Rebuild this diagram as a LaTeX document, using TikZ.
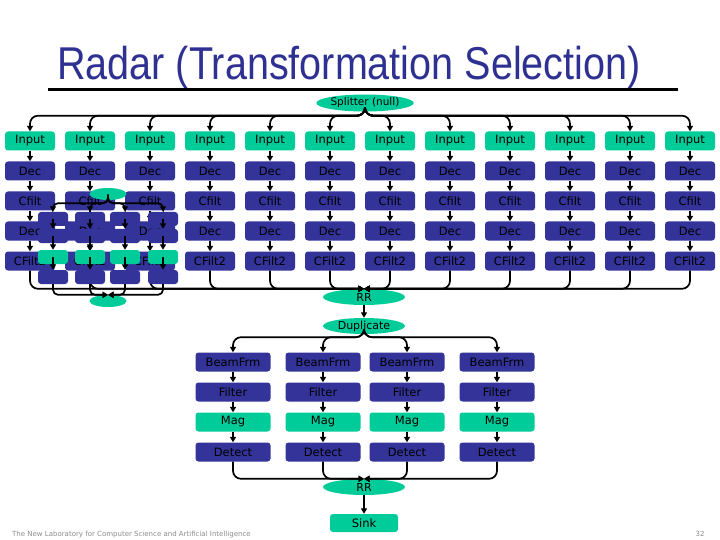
\documentclass[tikz,border=0pt]{standalone}
\usepackage{graphicx}
\usepackage{fontspec}
\setmainfont{DejaVu Sans}
\newfontfamily\titlefont{Liberation Sans}
\usetikzlibrary{arrows.meta,shapes.geometric}
\definecolor{radblue}{RGB}{51,51,153}
\definecolor{radgreen}{RGB}{0,204,153}
\definecolor{titleblue}{RGB}{46,49,146}
\tikzset{
  bluebox/.style={rounded corners=3pt, fill=radblue, text=black, inner sep=0pt,
                  minimum width=50pt, minimum height=19pt, font=\fontsize{11.5}{11.5}\selectfont},
  greenbox/.style={bluebox, fill=radgreen},
  greenoval/.style={ellipse, fill=radgreen, inner sep=0pt, minimum width=82pt,
                    minimum height=16pt, font=\fontsize{11}{11}\selectfont},
  minibox/.style={rounded corners=3pt, fill=radblue, inner sep=0pt,
                  minimum width=30pt, minimum height=14pt},
  flowarr/.style={-{Triangle[length=5.5pt,width=6pt]}, line width=1.7pt},
  fanarr/.style={flowarr, rounded corners=8pt},
  footlab/.style={text=black!45, font=\fontsize{7}{7}\selectfont},
}
\begin{document}
\begin{tikzpicture}[x=1pt,y=-1pt]
\fill[white] (0,0) rectangle (720,540);
\useasboundingbox (0,0) rectangle (720,540);
% title
\node[anchor=base, text=titleblue, inner sep=0pt] (title) at (349,80)
  {\scalebox{0.86}[1]{\titlefont\fontsize{46}{46}\selectfont Radar (Transformation Selection)}};
\draw[line width=3pt] (48,90) -- (678,90);
% splitter and joiner
\node[greenoval, minimum width=86pt, minimum height=17pt, font=\fontsize{10.5}{10.5}\selectfont] (split) at (365,103) {Splitter (null)};
\node[greenoval] (rr) at (364,297) {RR};
% twelve pipelines
\foreach \i in {1,...,12}{
  \pgfmathsetmacro\cx{-30+60*\i}
  \node[greenbox] (in\i) at (\cx,141) {Input};
  \node[bluebox] (da\i) at (\cx,171) {Dec};
  \node[bluebox] (cf\i) at (\cx,201) {Cfilt};
  \node[bluebox] (db\i) at (\cx,231) {Dec};
  \node[bluebox] (cg\i) at (\cx,261) {CFilt2};
  \draw[fanarr] (split.south) -- ++(0,4) -| (in\i.north);
  \draw[flowarr] (in\i) -- (da\i);
  \draw[flowarr] (da\i) -- (cf\i);
  \draw[flowarr] (cf\i) -- (db\i);
  \draw[flowarr] (db\i) -- (cg\i);
  \draw[fanarr] (cg\i.south) |- (rr.north);
}
% small copy lying over the left columns
\node[greenoval, minimum width=37pt, minimum height=12pt] (mtop) at (108,194) {};
\node[greenoval, minimum width=37pt, minimum height=12pt] (mbot) at (108,301) {};
\foreach \k/\mx in {1/53,2/90,3/125,4/163}{
  \node[minibox] (ma\k) at (\mx,219) {};
  \node[minibox] (mb\k) at (\mx,236) {};
  \node[minibox, fill=radgreen] (mc\k) at (\mx,257) {};
  \node[minibox] (md\k) at (\mx,277) {};
  \draw[flowarr, rounded corners=5pt] (mtop.south) -- ++(0,3) -| (ma\k.north);
  \draw[flowarr] (ma\k.center) -- (mb\k.north);
  \draw[flowarr] (mb\k.center) -- (mc\k.north);
  \draw[flowarr] (mc\k.center) -- (md\k.north);
  \draw[flowarr, rounded corners=5pt] (md\k.south) |- (mbot.north);
}
% lower part
\node[greenoval] (dup) at (364,326) {Duplicate};
\draw[flowarr] (rr) -- (dup);
\node[greenoval] (rrb) at (364,487) {RR};
\node[greenbox, minimum width=68pt, minimum height=18pt] (sink) at (364,523) {Sink};
\foreach \j/\bx in {1/233,2/323,3/407,4/497}{
  \node[bluebox, minimum width=75pt] (bf\j) at (\bx,362) {BeamFrm};
  \node[bluebox, minimum width=75pt] (fl\j) at (\bx,392) {Filter};
  \node[greenbox, minimum width=75pt] (mg\j) at (\bx,422) {Mag};
  \node[bluebox, minimum width=75pt] (dt\j) at (\bx,452) {Detect};
  \draw[fanarr] (dup.south) -- ++(0,3) -| (bf\j.north);
  \draw[flowarr] (bf\j) -- (fl\j);
  \draw[flowarr] (fl\j) -- (mg\j);
  \draw[flowarr] (mg\j) -- (dt\j);
  \draw[fanarr] (dt\j.south) |- (rrb.north);
}
\draw[flowarr] (rrb) -- (sink);
% footer
\node[footlab, anchor=base west, inner sep=0pt] (lab) at (12,536)
  {The New Laboratory for Computer Science and Artificial Intelligence};
\node[footlab, anchor=base, inner sep=0pt] (page) at (700,536) {32};
\end{tikzpicture}
\end{document}
